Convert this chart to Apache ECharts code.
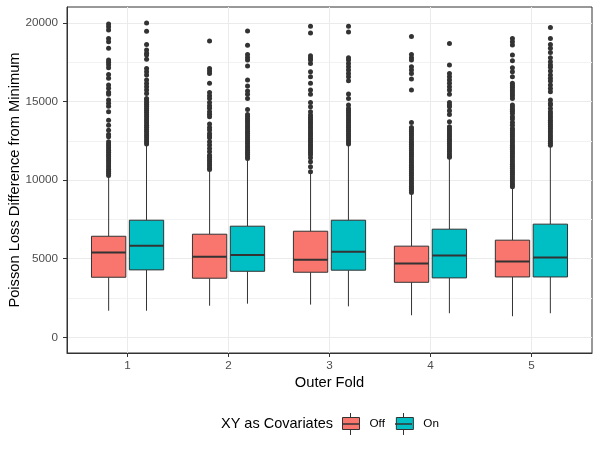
<!DOCTYPE html>
<html>
<head>
<meta charset="utf-8">
<script src="https://cdn.jsdelivr.net/npm/echarts@6/dist/echarts.min.js"></script>
<style>
  html, body { margin: 0; padding: 0; background: #fff; }
  #chart { width: 600px; height: 450px; }
</style>
</head>
<body>
<div id="chart"></div>
<script>
var folds = ["1", "2", "3", "4", "5"];
var groups = ["Off", "On"];
var yTicks = [0, 5000, 10000, 15000, 20000];
var yMinorTicks = [2500, 7500, 12500, 17500];

// box stats per fold (whisker low, Q1, median, Q3, whisker high)
var offLow = [1690, 2010, 2080, 1400, 1340];
var offQ1 = [3820, 3760, 4140, 3500, 3840];
var offMed = [5390, 5130, 4940, 4690, 4820];
var offQ3 = [6430, 6560, 6750, 5800, 6180];
var offHigh = [10230, 10660, 10450, 9190, 9550];

var onLow = [1690, 2140, 1970, 1530, 1530];
var onQ1 = [4290, 4200, 4270, 3780, 3840];
var onMed = [5820, 5240, 5450, 5200, 5070];
var onQ3 = [7450, 7070, 7450, 6880, 7200];
var onHigh = [12250, 11250, 12180, 11440, 12180];

// outliers
var off1Out = [19940, 19770, 19550, 19020, 18810, 18390, 17640, 17500, 17350, 17160, 16730, 16480, 16050, 15850, 15600, 15460, 15100, 14900, 14700, 14350, 13820, 13500, 13180, 12900, 12760, 12440, 12300, 12170, 12040, 11900, 11770, 11640, 11500, 11370, 11240, 11100, 10970, 10840, 10700, 10570, 10440, 10300];
var off2Out = [18850, 17110, 16950, 16790, 16160, 15580, 15370, 15200, 14950, 14740, 14570, 14350, 14190, 14030, 13570, 13350, 13190, 12970, 12830, 12700, 12440, 12230, 12020, 11810, 11590, 11450, 11320, 11180, 11050, 10910, 10780, 10680];
var off3Out = [19790, 19360, 17920, 17780, 17640, 17430, 16900, 16580, 16160, 15730, 15460, 14950, 14670, 14350, 14140, 14010, 13870, 13740, 13610, 13470, 13340, 13210, 13070, 12940, 12810, 12670, 12540, 12410, 12270, 12140, 12010, 11870, 11740, 11610, 11420, 11170, 10850, 10530];
var off4Out = [19150, 18000, 17790, 17640, 17220, 17010, 16790, 16430, 15730, 13670, 13350, 13220, 13090, 12950, 12820, 12690, 12550, 12420, 12290, 12150, 12020, 11890, 11750, 11620, 11490, 11350, 11220, 11090, 10950, 10820, 10690, 10550, 10420, 10290, 10150, 10020, 9890, 9750, 9620, 9490, 9350, 9220];
var off5Out = [19020, 18810, 18600, 17960, 17600, 17160, 16900, 16580, 16160, 16020, 15890, 15750, 15620, 15480, 15350, 15200, 14780, 14650, 14520, 14380, 14250, 14030, 13890, 13670, 13500, 13290, 13160, 13020, 12890, 12760, 12620, 12490, 12360, 12220, 12090, 11960, 11820, 11690, 11560, 11420, 11290, 11160, 11020, 10890, 10760, 10620, 10490, 10360, 10220, 10090, 9960, 9820, 9690, 9580];

var on1Out = [20000, 19470, 18640, 18280, 18070, 17960, 17690, 17110, 16900, 16690, 16370, 16150, 15940, 15730, 15520, 15200, 15100, 14960, 14830, 14700, 14560, 14430, 14300, 14160, 14030, 13900, 13760, 13630, 13500, 13360, 13230, 13100, 12960, 12830, 12700, 12560, 12430, 12300];
var on2Out = [19490, 18580, 18000, 17810, 17640, 17260, 16370, 15990, 15670, 15460, 15200, 14500, 14180, 14050, 13910, 13780, 13650, 13510, 13380, 13250, 13110, 12980, 12850, 12710, 12580, 12450, 12310, 12180, 12050, 11910, 11780, 11650, 11510, 11380];
var on3Out = [19790, 19430, 17790, 17640, 17430, 17220, 17010, 16790, 16580, 16330, 15480, 15200, 14780, 14560, 14430, 14300, 14160, 14030, 13900, 13760, 13630, 13500, 13360, 13230, 13100, 12960, 12830, 12700, 12560, 12430, 12300];
var on4Out = [18700, 17330, 16790, 16580, 16370, 16160, 15950, 15730, 15460, 14950, 14780, 14670, 14420, 14180, 13720, 13400, 13270, 13140, 13000, 12870, 12740, 12600, 12470, 12340, 12200, 12070, 11940, 11800, 11670, 11540, 11460];
var on5Out = [19720, 19020, 18640, 18390, 18130, 17790, 17540, 17330, 17180, 16940, 16690, 16480, 16310, 16050, 15840, 15630, 15100, 14880, 14780, 14560, 14350, 14220, 14080, 13950, 13820, 13680, 13550, 13420, 13280, 13150, 13020, 12880, 12750, 12620, 12480, 12350, 12220];

var colors = { Off: "#F8766D", On: "#00BFC4" };
var ink = "#333333";
var font = "Liberation Sans, Arial, sans-serif";

// folds sit at positions 1..n on a value axis (ggplot-style 0.6 padding)
var foldPos = folds.map(function (f, i) {
  return i + 1;
});

function boxData(low, q1, med, q3, high) {
  return foldPos.map(function (p, i) {
    return [p, low[i], q1[i], med[i], q3[i], high[i]];
  });
}

function outlierData(lists) {
  var out = [];
  lists.forEach(function (list, i) {
    list.forEach(function (v) {
      out.push([foldPos[i], v]);
    });
  });
  return out;
}

// dodge like ggplot: boxes sit left/right of the fold centre
function boxRenderer(shift, fill) {
  return function (params, api) {
    var p = api.value(0);
    var band = api.size([1, 0], [p, 0])[0];
    var x = api.coord([p, 0])[0] + shift * band;
    var half = band * 0.17;
    var y = function (d) {
      return api.coord([p, api.value(d)])[1];
    };
    var line = { stroke: ink, lineWidth: 1 };
    return {
      type: "group",
      children: [
        { type: "line", shape: { x1: x, y1: y(1), x2: x, y2: y(2) }, style: line },
        { type: "line", shape: { x1: x, y1: y(4), x2: x, y2: y(5) }, style: line },
        {
          type: "rect",
          shape: { x: x - half, y: y(4), width: half * 2, height: y(2) - y(4) },
          style: { fill: fill, stroke: ink, lineWidth: 1 },
        },
        { type: "line", shape: { x1: x - half, y1: y(3), x2: x + half, y2: y(3) }, style: { stroke: ink, lineWidth: 2 } },
      ],
    };
  };
}

var myChart = echarts.init(document.getElementById("chart"));
var option = {
  animation: false,
  backgroundColor: "#fff",
  textStyle: { fontFamily: font },
  title: {
    text: "XY as Covariates",
    left: 221,
    top: 416,
    padding: 0,
    textStyle: { fontFamily: font, fontSize: 14.5, fontWeight: "normal", color: "#000" },
  },
  legend: {
    data: groups,
    left: 342,
    top: 417,
    padding: 0,
    icon: "rect",
    itemWidth: 17,
    itemHeight: 12,
    itemGap: 11,
    itemStyle: { borderColor: ink, borderWidth: 1 },
    textStyle: { fontFamily: font, fontSize: 11.7, color: "#000", padding: [0, 0, 0, 5] },
  },
  grid: {
    left: 67,
    right: 8,
    top: 7,
    bottom: 97,
    containLabel: false,
    outerBoundsMode: "none",
    show: true,
    backgroundColor: "#fff",
    borderColor: ink,
    borderWidth: 1,
  },
  xAxis: {
    type: "value",
    min: 0.4,
    max: folds.length + 0.6,
    name: "Outer Fold",
    nameLocation: "middle",
    nameGap: 22,
    nameMoveOverlap: false,
    nameTextStyle: { fontFamily: font, fontSize: 14.7, color: "#000" },
    axisLine: { show: true, onZero: false, lineStyle: { color: ink } },
    axisTick: { show: true, length: 4, customValues: foldPos, lineStyle: { color: ink } },
    axisLabel: {
      customValues: foldPos,
      color: "#4D4D4D",
      fontSize: 11.7,
      margin: 7,
      formatter: function (v) {
        return folds[Math.round(v) - 1];
      },
    },
    splitLine: { show: true, lineStyle: { color: "#EBEBEB", width: 1 } },
  },
  yAxis: [
    {
      type: "value",
      min: -1000,
      max: 21020,
      name: "Poisson Loss Difference from Minimum",
      nameLocation: "middle",
      nameGap: 45,
      nameMoveOverlap: false,
      nameTextStyle: { fontFamily: font, fontSize: 14.7, color: "#000" },
      axisLine: { show: true, onZero: false, lineStyle: { color: ink } },
      axisTick: { show: true, length: 4, customValues: yTicks, lineStyle: { color: ink } },
      axisLabel: {
        customValues: yTicks,
        color: "#4D4D4D",
        fontSize: 11.7,
        margin: 9,
        formatter: function (v) {
          return String(v);
        },
      },
      splitLine: { show: true, lineStyle: { color: "#EBEBEB", width: 1 } },
    },
    {
      // minor grid lines
      type: "value",
      min: -1000,
      max: 21020,
      axisLine: { show: false, onZero: false },
      axisTick: { show: false, customValues: yMinorTicks },
      axisLabel: { show: false },
      splitLine: { show: true, lineStyle: { color: "#F2F2F2", width: 1 } },
    },
  ],
  series: [
    {
      name: "Off",
      type: "custom",
      itemStyle: { color: colors.Off },
      renderItem: boxRenderer(-0.1875, colors.Off),
      encode: { x: 0, y: [1, 2, 3, 4, 5] },
      data: boxData(offLow, offQ1, offMed, offQ3, offHigh),
    },
    {
      name: "On",
      type: "custom",
      itemStyle: { color: colors.On },
      renderItem: boxRenderer(0.1875, colors.On),
      encode: { x: 0, y: [1, 2, 3, 4, 5] },
      data: boxData(onLow, onQ1, onMed, onQ3, onHigh),
    },
    {
      name: "Off outliers",
      type: "scatter",
      symbolSize: 5,
      symbolOffset: [-19, 0],
      itemStyle: { color: ink, opacity: 1 },
      data: outlierData([off1Out, off2Out, off3Out, off4Out, off5Out]),
    },
    {
      name: "On outliers",
      type: "scatter",
      symbolSize: 5,
      symbolOffset: [19, 0],
      itemStyle: { color: ink, opacity: 1 },
      data: outlierData([on1Out, on2Out, on3Out, on4Out, on5Out]),
    },
  ],
  // whisker stubs and median bar on the legend keys, as ggplot draws them
  graphic: [
    { type: "line", z: 100, shape: { x1: 350.5, y1: 413, x2: 350.5, y2: 418 }, style: { stroke: ink, lineWidth: 1 } },
    { type: "line", z: 100, shape: { x1: 350.5, y1: 430, x2: 350.5, y2: 435 }, style: { stroke: ink, lineWidth: 1 } },
    { type: "line", z: 100, shape: { x1: 342, y1: 424, x2: 359, y2: 424 }, style: { stroke: ink, lineWidth: 1.5 } },
    { type: "line", z: 100, shape: { x1: 403.5, y1: 413, x2: 403.5, y2: 418 }, style: { stroke: ink, lineWidth: 1 } },
    { type: "line", z: 100, shape: { x1: 403.5, y1: 430, x2: 403.5, y2: 435 }, style: { stroke: ink, lineWidth: 1 } },
    { type: "line", z: 100, shape: { x1: 395, y1: 424, x2: 412, y2: 424 }, style: { stroke: ink, lineWidth: 1.5 } },
  ],
};
myChart.setOption(option);
</script>
</body>
</html>
